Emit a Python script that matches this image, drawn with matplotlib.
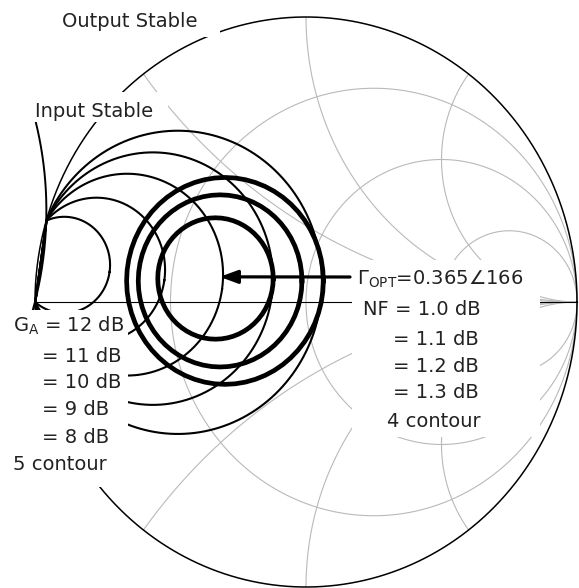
import numpy as np
import matplotlib
matplotlib.use("Agg")
import matplotlib.pyplot as plt
from matplotlib.patches import Rectangle, Circle

# ---------------- data (reflection-coefficient plane) ----------------
grid_resistance = [1 / 3, 1.0, 3.0]
grid_reactance = [0.5, 1.0, 2.0, -0.5, -1.0, -2.0]

gain_db = [12, 11, 10, 9, 8]
gain_center_u = [-0.892, -0.773, -0.660, -0.565, -0.473]
gain_center_v = [0.130, 0.113, 0.096, 0.082, 0.069]
gain_radius = [0.169, 0.253, 0.354, 0.443, 0.532]

nf_db = [1.0, 1.1, 1.2, 1.3]
nf_center_u = [-0.334, -0.317, -0.299]
nf_center_v = [0.0825, 0.074, 0.074]
nf_radius = [0.213, 0.302, 0.363]

gamma_opt_mag = 0.365
gamma_opt_deg = 166

stab_center_u, stab_center_v = -2.204, 0.3216
stab_radius = 1.246
stab_arc_deg = (-22, 18)

# ---------------- layout helpers (pixel -> data) ----------------
W, H = 579, 588
CX, CY, RX, RY = 306.0, 302.0, 271.0, 285.0


def P(x, y):
    return (x - CX) / RX, (CY - y) / RY


fig = plt.figure(figsize=(W / 100, H / 100), dpi=100)
ax = fig.add_axes([0, 0, 1, 1])
ax.set_xlim(P(0, 0)[0], P(W, 0)[0])
ax.set_ylim(P(0, H)[1], P(0, 0)[1])
ax.axis("off")

GRAY = "#b9b9b9"
t = np.linspace(0, 2 * np.pi, 1441)

# unit-circle clip for grid
clip = Circle((0, 0), 1.0, transform=ax.transData)

for r in grid_resistance:
    c, rad = r / (1 + r), 1 / (1 + r)
    ax.plot(c + rad * np.cos(t), rad * np.sin(t), color=GRAY, lw=0.8, zorder=1)

for x in grid_reactance:
    c, rad = 1.0 / x, 1.0 / abs(x)
    ln, = ax.plot(1 + rad * np.cos(t), c + rad * np.sin(t), color=GRAY, lw=0.8, zorder=1)
    ln.set_clip_path(clip)

# real axis and unit circle
ax.plot([-1, 1], [0, 0], color="black", lw=0.8, zorder=2)
ax.plot(np.cos(t), np.sin(t), color="black", lw=1.1, zorder=2)

# available-gain circles (points inside |G|<=1 joined)
for cu, cv, rad in zip(gain_center_u, gain_center_v, gain_radius):
    start = np.arctan2(-cv, -cu)
    tt = start + np.linspace(0, 2 * np.pi, 721)
    u = cu + rad * np.cos(tt)
    v = cv + rad * np.sin(tt)
    m = u ** 2 + v ** 2 <= 1.0
    ax.plot(u[m], v[m], color="black", lw=1.5, zorder=3)

# input stability circle arc
ts = np.radians(np.linspace(stab_arc_deg[0], stab_arc_deg[1], 200))
ax.plot(stab_center_u + stab_radius * np.cos(ts), stab_center_v + stab_radius * np.sin(ts),
        color="black", lw=1.4, zorder=3)

# noise-figure circles
tn = np.linspace(0, 2 * np.pi, 61)
for cu, cv, rad in zip(nf_center_u, nf_center_v, nf_radius):
    ax.plot(cu + rad * np.cos(tn), cv + rad * np.sin(tn), color="black", lw=3.4,
            zorder=4, solid_joinstyle="miter")

# white label areas
for (x1, y1, x2, y2) in [(48, 0, 220, 37), (28, 92, 168, 122), (0, 310, 128, 487), (352, 260, 540, 437)]:
    u0, v0 = P(x1, y2)
    ax.add_patch(Rectangle((u0, v0), (x2 - x1) / RX, (y2 - y1) / RY, facecolor="white",
                           edgecolor="none", zorder=5))

# Gamma_opt arrow
g = gamma_opt_mag * np.exp(1j * np.radians(gamma_opt_deg))
ax.annotate("", xy=(g.real, g.imag), xytext=P(350, 277),
            arrowprops=dict(arrowstyle="-|>,head_length=0.6,head_width=0.22", color="black",
                            lw=2.3, mutation_scale=18, shrinkA=0, shrinkB=7), zorder=6)

FS = 14
TC = "#222222"


def label(x, y, s):
    u, v = P(x, y)
    ax.text(u, v, s, ha="left", va="baseline", fontsize=FS, color=TC, zorder=7)


label(62, 27, "Output Stable")
label(35, 117, "Input Stable")
label(357, 285, r"$\Gamma_{\mathrm{OPT}}$" + "=%.3f\u2220%d" % (gamma_opt_mag, gamma_opt_deg))

label(363, 315, "NF = %.1f dB" % nf_db[0])
for i, y in enumerate([345, 372, 398]):
    label(393, y, "= %.1f dB" % nf_db[i + 1])
label(387, 427, "%d contour" % len(nf_db))

label(13, 332, r"G$_{\mathrm{A}}$" + " = %d dB" % gain_db[0])
for i, y in enumerate([362, 388, 415, 443]):
    label(42, y, "= %d dB" % gain_db[i + 1])
label(13, 470, "%d contour" % len(gain_db))

fig.savefig("out.png", dpi=100, facecolor="white")
